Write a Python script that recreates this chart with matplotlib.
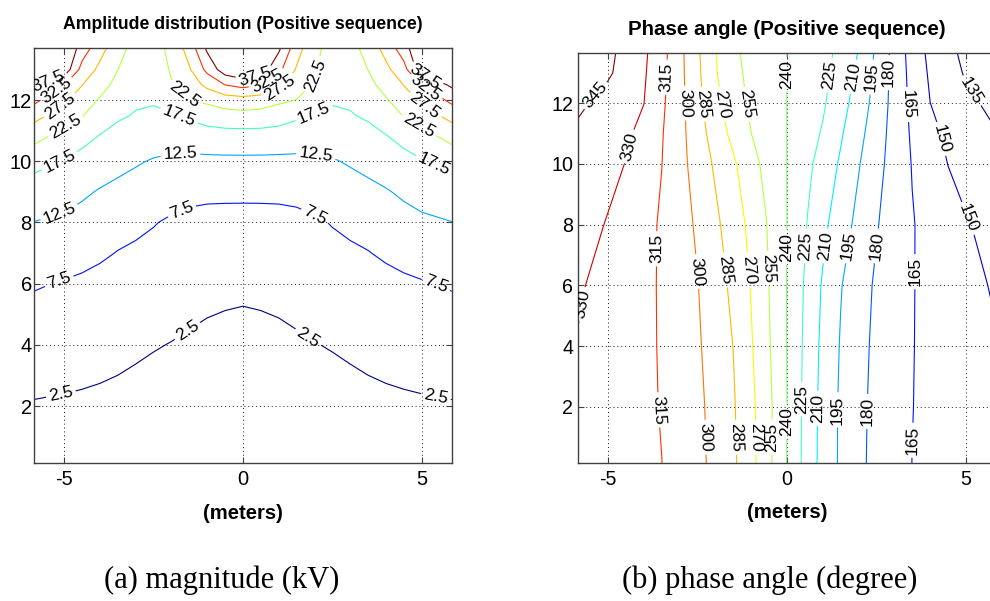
import matplotlib
matplotlib.use('Agg')
import matplotlib.pyplot as plt
from matplotlib import font_manager

# ---------------- (a) amplitude of the positive sequence, kV ----------------
AMP_X = [-5.85, -5, -4.5, -4, -3.5, -3, -2.5, -2, -1.5, -1, -0.5, 0, 0.5,
         1, 1.5, 2, 2.5, 3, 3.5, 4, 4.5, 5, 5.85]
AMP_Y = [0.14, 2, 3, 4, 5, 6, 7, 8, 9, 10, 11, 11.5, 12, 12.5, 13, 13.7]
AMP_KV = [
    [0.55, 0.5, 0.45, 0.4, 0.35, 0.3, 0.25, 0.2, 0.15, 0.12, 0.1, 0.1, 0.1, 0.12, 0.15, 0.2, 0.25, 0.3, 0.35, 0.4, 0.45, 0.5, 0.55],
    [2.2, 2.0, 1.85, 1.75, 1.6, 1.45, 1.42, 1.26, 1.1, 1.0, 0.92, 0.9, 0.92, 1.0, 1.1, 1.26, 1.42, 1.45, 1.6, 1.75, 1.85, 2.0, 2.2],
    [3.6, 3.24, 3.03, 2.76, 2.49, 2.14, 1.87, 1.85, 1.6, 1.42, 1.32, 1.28, 1.32, 1.42, 1.6, 1.85, 1.87, 2.14, 2.49, 2.76, 3.03, 3.24, 3.6],
    [4.8, 4.45, 4.2, 3.85, 3.5, 3.1, 2.69, 2.4, 2.15, 1.9, 1.75, 1.7, 1.75, 1.9, 2.15, 2.4, 2.69, 3.1, 3.5, 3.85, 4.2, 4.45, 4.8],
    [6.3, 5.8, 5.45, 5.0, 4.6, 4.25, 3.9, 3.3, 2.85, 2.58, 2.42, 2.32, 2.42, 2.58, 2.85, 3.3, 3.9, 4.25, 4.6, 5.0, 5.45, 5.8, 6.3],
    [7.9, 7.2, 6.8, 6.3, 5.8, 5.5, 5.24, 4.4, 3.55, 3.3, 3.08, 3.0, 3.08, 3.3, 3.55, 4.4, 5.24, 5.5, 5.8, 6.3, 6.8, 7.2, 7.9],
    [10.1, 9.4, 8.78, 8.1, 7.35, 6.87, 6.33, 5.65, 5.0, 4.75, 4.55, 4.5, 4.55, 4.75, 5.0, 5.65, 6.33, 6.87, 7.35, 8.1, 8.78, 9.4, 10.1],
    [12.43, 11.6, 10.9, 10.13, 9.0, 8.4, 7.72, 6.9, 6.7, 6.4, 6.25, 6.2, 6.25, 6.4, 6.7, 6.9, 7.72, 8.4, 9.0, 10.13, 10.9, 11.6, 12.43],
    [15.2, 14.26, 13.21, 12.15, 11.38, 10.72, 9.94, 9.3, 8.3, 8.23, 8.25, 8.26, 8.25, 8.23, 8.3, 9.3, 9.94, 10.72, 11.38, 12.15, 13.21, 14.26, 15.2],
    [19.0, 17.2, 15.6, 14.87, 13.79, 12.93, 12.17, 11.64, 11.42, 11.36, 11.39, 11.4, 11.39, 11.36, 11.42, 11.64, 12.17, 12.93, 13.79, 14.87, 15.6, 17.2, 19.0],
    [25.44, 21.79, 20.13, 17.87, 16.65, 15.79, 15.13, 15.3, 15.78, 16.56, 16.9, 17.0, 16.9, 16.56, 15.78, 15.3, 15.13, 15.79, 16.65, 17.87, 20.13, 21.79, 25.44],
    [29.36, 24.83, 22.74, 20.19, 18.09, 17.22, 16.9, 17.13, 18.33, 19.72, 20.7, 21.1, 20.7, 19.72, 18.33, 17.13, 16.9, 17.22, 18.09, 20.19, 22.74, 24.83, 29.36],
    [33.73, 28.33, 25.12, 22.0, 19.56, 18.07, 17.83, 19.4, 22.4, 23.54, 25.0, 25.5, 25.0, 23.54, 22.4, 19.4, 17.83, 18.07, 19.56, 22.0, 25.12, 28.33, 33.73],
    [38.5, 32.6, 27.6, 24.42, 21.03, 18.79, 18.54, 22.1, 24.77, 28.8, 32.6, 34.2, 32.6, 28.8, 24.77, 22.1, 18.54, 18.79, 21.03, 24.42, 27.6, 32.6, 38.5],
    [45.0, 40.8, 30.63, 26.35, 22.55, 19.5, 19.25, 23.1, 27.05, 33.86, 40.3, 42.5, 40.3, 33.86, 27.05, 23.1, 19.25, 19.5, 22.55, 26.35, 30.63, 40.8, 45.0],
    [55.0, 42.6, 35.3, 29.2, 24.5, 20.5, 20.25, 24.0, 29.5, 38.5, 50.0, 55.0, 50.0, 38.5, 29.5, 24.0, 20.25, 20.5, 24.5, 29.2, 35.3, 42.6, 55.0],
]
AMP_LEVELS = [2.5, 7.5, 12.5, 17.5, 22.5, 27.5, 32.5, 37.5]

# ---------------- (b) phase angle of the positive sequence, degree ----------------
PHASE_X = [-5.84, -5, -4.5, -4, -3.5, -3, -2.5, -2, -1.5, -1, -0.6, -0.25,
           0.25, 0.6, 1, 1.5, 2, 2.5, 3, 3.5, 4, 4.5, 5, 5.84]
PHASE_Y = [0.15, 2, 4, 6, 8, 10, 11, 12, 13, 13.65]
PHASE_DEG = [
    [326.0, 322.0, 319.7, 317.4, 315.1, 309.3, 303.5, 296.4, 287.4, 274.5, 261.4, 248.9, 230.4, 217.5, 205.1, 192.8, 183.0, 176.1, 170.5, 164.9, 162.5, 160.1, 157.6, 153.5],
    [327.5, 322.9, 320.2, 317.5, 314.4, 308.7, 303.0, 295.6, 286.5, 273.5, 261.4, 249.4, 230.6, 218.0, 205.4, 192.9, 183.4, 176.4, 170.8, 165.2, 162.4, 159.7, 157.1, 152.5],
    [329.3, 323.9, 320.8, 317.6, 314.0, 307.9, 301.8, 293.7, 284.8, 271.3, 259.3, 248.2, 231.1, 219.0, 206.6, 194.0, 184.5, 177.0, 171.2, 165.4, 162.2, 159.2, 156.1, 151.0],
    [331.5, 325.5, 321.8, 318.0, 313.7, 307.1, 300.5, 291.6, 281.6, 269.2, 257.8, 247.5, 231.7, 220.4, 208.5, 195.8, 186.3, 178.0, 171.8, 165.6, 161.6, 157.8, 154.0, 148.5],
    [335.0, 329.2, 324.1, 319.1, 313.5, 306.0, 298.0, 288.0, 277.5, 266.2, 256.0, 246.7, 233.2, 223.7, 213.6, 201.8, 191.0, 181.0, 173.3, 165.8, 160.6, 155.8, 151.0, 145.5],
    [339.0, 333.2, 329.7, 322.4, 315.2, 304.7, 294.0, 282.9, 272.2, 260.3, 251.5, 244.8, 234.9, 227.7, 219.1, 208.1, 196.0, 184.7, 174.2, 164.4, 157.0, 149.8, 146.0, 139.5],
    [342.5, 336.1, 332.3, 326.0, 316.0, 304.6, 291.7, 278.3, 266.0, 255.1, 249.0, 243.8, 236.0, 230.4, 223.6, 211.7, 199.4, 186.9, 174.5, 163.1, 153.8, 147.4, 143.0, 135.5],
    [347.5, 340.6, 335.4, 330.2, 317.6, 304.7, 289.3, 274.3, 261.9, 252.5, 247.5, 243.1, 236.7, 232.2, 227.0, 215.9, 203.1, 189.6, 174.9, 161.5, 150.1, 143.8, 137.5, 132.0],
    [352.0, 346.6, 340.6, 331.8, 319.1, 304.3, 288.0, 271.3, 259.1, 251.3, 246.8, 242.8, 237.1, 233.1, 228.5, 219.8, 206.5, 191.6, 175.0, 160.2, 148.0, 139.9, 133.8, 128.5],
    [355.0, 347.6, 341.5, 332.7, 320.1, 304.1, 287.3, 270.7, 257.6, 250.7, 246.4, 242.7, 237.3, 233.4, 229.1, 221.8, 209.3, 192.5, 175.0, 159.0, 146.5, 137.8, 132.4, 126.0],
]
PHASE_LEVELS = [135, 150, 165, 180, 195, 210, 225, 240, 255, 270, 285, 300, 315, 330, 345]

# where the inline labels sit (data coordinates), per level
AMP_LABEL_AT = {
    2.5: [(-5.1, 2.4), (-1.55, 4.45), (1.8, 4.2), (5.4, 2.3)],
    7.5: [(-5.15, 6.1), (-1.7, 8.35), (2.0, 8.2), (5.4, 5.95)],
    12.5: [(-5.15, 8.35), (-1.75, 10.24), (2.05, 10.24)],
    17.5: [(-5.1, 9.9), (-1.8, 11.45), (2.0, 11.55), (5.3, 9.8)],
    22.5: [(-4.95, 11.1), (-1.6, 12.2), (2.05, 12.8), (4.9, 11.1)],
    27.5: [(-5.0, 11.6), (1.05, 12.35), (5.0, 11.65)],
    32.5: [(-5.15, 12.2), (0.7, 12.6), (5.0, 12.2)],
    37.5: [(-5.4, 12.5), (0.35, 12.72), (5.05, 12.65)],
}
PHASE_LABEL_AT = {
    345: [(-5.3, 12.2)],
    330: [(-4.33, 10.55), (-5.64, 5.36)],
    315: [(-3.27, 12.85), (-3.5, 7.2), (-3.6, 1.9)],
    300: [(-2.9, 12.0), (-2.55, 6.45), (-2.25, 1.0)],
    285: [(-2.45, 11.95), (-1.8, 6.5), (-1.42, 1.0)],
    270: [(-1.9, 11.95), (-1.12, 6.5), (-0.88, 1.0)],
    255: [(-1.2, 11.95), (-0.55, 6.55), (-0.42, 1.0)],
    240: [(0.0, 12.95), (0.0, 7.25), (0.0, 1.5)],
    225: [(1.3, 12.9), (0.5, 7.3), (0.42, 2.25)],
    210: [(1.92, 12.85), (1.05, 7.3), (0.85, 1.95)],
    195: [(2.42, 12.85), (1.7, 7.3), (1.42, 1.9)],
    180: [(2.85, 13.0), (2.47, 7.3), (2.2, 1.85)],
    165: [(3.3, 11.95), (3.55, 6.45), (3.5, 0.9)],
    150: [(4.22, 10.8), (5.05, 8.2)],
    135: [(5.15, 12.4)],
}

installed = {f.name for f in font_manager.fontManager.ttflist}
SANS = 'Liberation Sans'
if 'Liberation Sans Narrow' in installed:
    NARROW, NSCALE = 'Liberation Sans Narrow', 1.0
else:
    NARROW, NSCALE = SANS, 0.83
SERIF = 'Liberation Serif'

plt.rcParams['axes.unicode_minus'] = False
plt.rcParams['font.family'] = [SANS, 'DejaVu Sans']


def style_axes(ax, family, tick_size, xlim, ylim, xpad, ypad):
    ax.set_xlim(xlim)
    ax.set_ylim(ylim)
    ax.set_xticks([-5, 0, 5])
    ax.set_yticks([2, 4, 6, 8, 10, 12])
    ax.grid(True, linestyle=(0, (1, 3)), color='0.1', linewidth=0.7)
    ax.tick_params(direction='in', top=True, right=True, length=4, width=0.8,
                   labelsize=tick_size, colors='0.25', labelcolor='black')
    ax.tick_params(axis='x', pad=xpad)
    ax.tick_params(axis='y', pad=ypad)
    for lab in ax.get_xticklabels() + ax.get_yticklabels():
        lab.set_family(family)
    for sp in ax.spines.values():
        sp.set_color('0.25')
        sp.set_linewidth(1.0)


def draw_contours(ax, xs, ys, zs, levels, label_at, label_size):
    # one contour set per level, so each label snaps onto its own line
    lo, hi = levels[0], levels[-1]
    with plt.rc_context({'font.family': [SANS]}):
        for level in levels:
            cs = ax.contour(xs, ys, zs, levels=[level], cmap='jet',
                            vmin=lo, vmax=hi, linewidths=0.8)
            spots = label_at.get(level, [])
            if spots:
                cs.clabel(manual=spots, inline=True, inline_spacing=3,
                          fmt='%g', fontsize=label_size, colors='k')


fig = plt.figure(figsize=(9.9, 6.01), dpi=100)
ax1 = fig.add_axes([0.0343, 0.2296, 0.4222, 0.6905])
ax2 = fig.add_axes([0.5838, 0.2296, 0.4222, 0.6822])

# (a) amplitude
style_axes(ax1, SANS, 14.5, (-5.85, 5.85), (0.14, 13.7), 5, 1.5)
draw_contours(ax1, AMP_X, AMP_Y, AMP_KV, AMP_LEVELS, AMP_LABEL_AT, 12.5)
ax1.set_xlim(-5.85, 5.85)
ax1.set_ylim(0.14, 13.7)
ax1.set_title('Amplitude distribution (Positive sequence)', family=SANS,
              fontweight='bold', fontsize=12.7, pad=14)
ax1.set_xlabel('(meters)', family=SANS, fontweight='bold', fontsize=14.6, labelpad=11)

# (b) phase angle
style_axes(ax2, NARROW, 17 * NSCALE, (-5.84, 5.84), (0.15, 13.65), 5, 3.5)
draw_contours(ax2, PHASE_X, PHASE_Y, PHASE_DEG, PHASE_LEVELS, PHASE_LABEL_AT, 12.5)
ax2.set_xlim(-5.84, 5.84)
ax2.set_ylim(0.15, 13.65)
ax2.set_title('Phase angle (Positive sequence)', family=NARROW,
              fontweight='bold', fontsize=17.8 * NSCALE, pad=13)
ax2.set_xlabel('(meters)', family=NARROW, fontweight='bold',
               fontsize=17.8 * NSCALE, labelpad=10)

fig.text(0.224, 0.034, '(a) magnitude (kV)', family=SERIF, fontsize=22,
         ha='center', va='center')
fig.text(0.777, 0.034, '(b) phase angle (degree)', family=SERIF, fontsize=22,
         ha='center', va='center')

fig.savefig('out.png', dpi=100)
plt.close(fig)
